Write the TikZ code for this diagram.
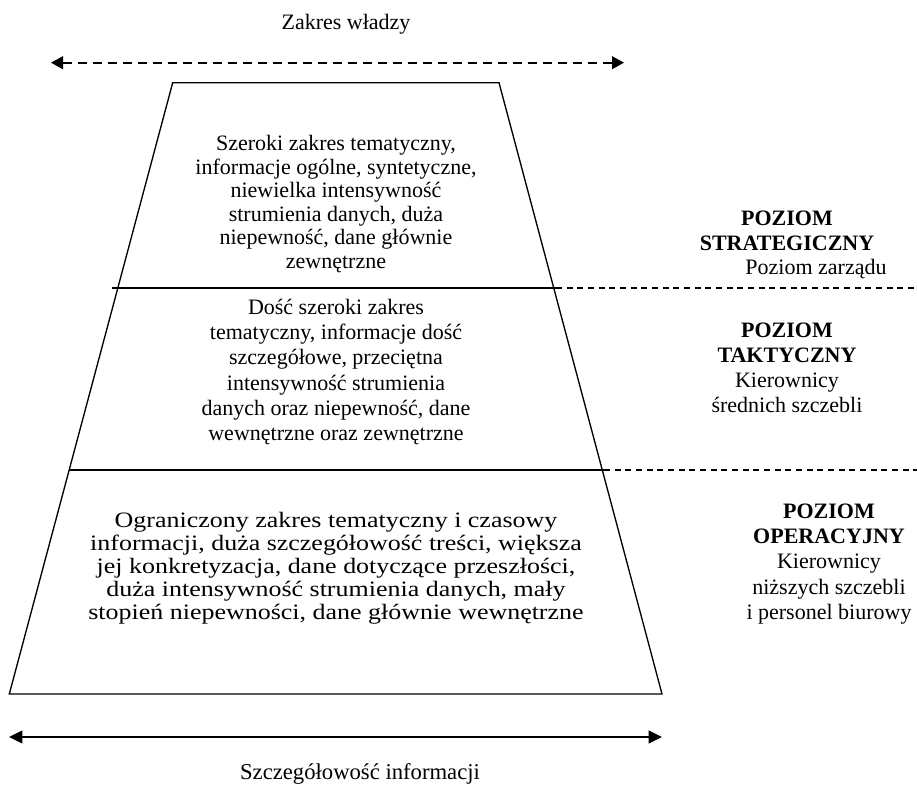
\documentclass[tikz,border=0pt]{standalone}
\usepackage{fontspec}
\setmainfont{Liberation Serif}
\usetikzlibrary{arrows.meta}
\begin{document}
\begin{tikzpicture}[x=0.75pt,y=-0.75pt,
  body/.style={align=center, font=\fontsize{16.5}{18.9}\selectfont, inner sep=0pt},
  lvl/.style={align=center, font=\fontsize{16.5}{18.9}\selectfont, inner sep=0pt},
  edgeline/.style={line width=1pt, line join=miter},
  sepline/.style={line width=1.3pt},
  sepdash/.style={line width=0.8pt, dash pattern=on 4.5pt off 3.5pt},
  dasharrow/.style={line width=1.5pt, dash pattern=on 6.75pt off 4.5pt,
    {Triangle[length=9pt,width=9.5pt]}-{Triangle[length=9pt,width=9.5pt]}},
  solidarrow/.style={line width=1.5pt,
    {Triangle[length=10pt,width=9.5pt]}-{Triangle[length=10pt,width=9.5pt]}},
  lbl/.style={inner sep=0pt}
]
\useasboundingbox (0,0) rectangle (917,795);

% labels of axes
\node[lbl, font=\fontsize{16.5}{20}\selectfont] (title) at (346,24) {Zakres władzy};
\node[lbl, font=\fontsize{17}{20}\selectfont] (bottomlbl) at (360,774) {Szczegółowość informacji};

% arrows
\coordinate (a1l) at (51,62.7);
\coordinate (a1r) at (624,62.7);
\coordinate (a2l) at (9,737);
\coordinate (a2r) at (662,737);
\draw[dasharrow] (a1l) -- (a1r);
\draw[solidarrow] (a2l) -- (a2r);

% trapezoid
\coordinate (tl) at (172.7,82.7);
\coordinate (tr) at (499,82.7);
\coordinate (br) at (662,694);
\coordinate (bl) at (9.3,694);
\draw[edgeline] (tl) -- (tr) -- (br) -- (bl) -- cycle;

% separators
\coordinate (s1l) at (112,288);
\coordinate (s1m) at (556,288);
\coordinate (s1r) at (917,288);
\coordinate (s2l) at (69,470);
\coordinate (s2m) at (604,470);
\coordinate (s2r) at (917,470);
\draw[sepline] (s1l) -- (s1m);
\draw[sepdash] (s1m) -- (s1r);
\draw[sepline] (s2l) -- (s2m);
\draw[sepdash] (s2m) -- (s2r);

% body texts
\node[body, font=\fontsize{16.5}{17.6}\selectfont] (t1) at (336,204) {Szeroki zakres tematyczny,\\informacje ogólne, syntetyczne,\\niewielka intensywność\\strumienia danych, duża\\niepewność, dane głównie\\zewnętrzne};
\node[body, font=\fontsize{16.5}{18.9}\selectfont] (t2) at (336,372) {Dość szeroki zakres\\tematyczny, informacje dość\\szczegółowe, przeciętna\\intensywność strumienia\\danych oraz niepewność, dane\\wewnętrzne oraz zewnętrzne};
\node[body, font=\fontsize{16.5}{17.3}\selectfont] (t3) at (336,569) {\scalebox{1.18}[1]{\begin{tabular}{@{}c@{}}Ograniczony zakres tematyczny i czasowy\\informacji, duża szczegółowość treści, większa\\jej konkretyzacja, dane dotyczące przeszłości,\\duża intensywność strumienia danych, mały\\stopień niepewności, dane głównie wewnętrzne\end{tabular}}};

% level labels
\node[lvl] (l1) at (787,231) {\textbf{POZIOM}\\\textbf{STRATEGICZNY}};
\node[lvl] (l1b) at (816,269) {Poziom zarządu};
\node[lvl] (l2) at (787,368) {\textbf{POZIOM}\\\textbf{TAKTYCZNY}\\Kierownicy\\średnich szczebli};
\node[lvl] (l3) at (829,564) {\textbf{POZIOM}\\\textbf{OPERACYJNY}\\Kierownicy\\niższych szczebli\\i personel biurowy};
\end{tikzpicture}
\end{document}
